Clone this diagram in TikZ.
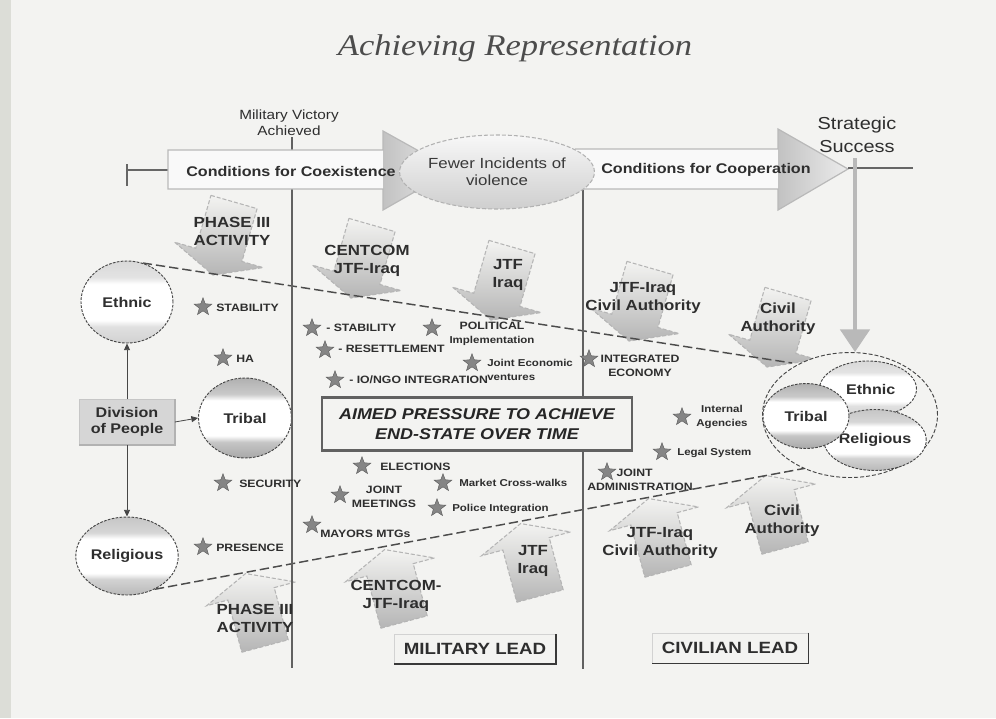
\documentclass[tikz,border=0pt]{standalone}
\usepackage{fontspec}
\setmainfont{Liberation Serif}
\newfontfamily\wsans[FakeStretch=1.15]{Liberation Sans}
\newfontfamily\wserif[FakeStretch=1.15]{Liberation Serif}
\usetikzlibrary{shapes.geometric,arrows.meta}
\pgfdeclarelayer{back}
\pgfdeclarelayer{bg}
\pgfsetlayers{back,bg,main}

\definecolor{pagecol}{HTML}{F3F3F1}
\definecolor{stripcol}{HTML}{DCDDD7}
\definecolor{ink}{HTML}{2E2E2E}

\pgfdeclareverticalshading{shEthnic}{100bp}{color(0bp)=(gray!36); color(25bp)=(gray!36); color(35bp)=(gray!24); color(39bp)=(white); color(61bp)=(white); color(65bp)=(gray!22); color(75bp)=(gray!30); color(100bp)=(gray!30)}
\pgfdeclareverticalshading{shTribal}{100bp}{color(0bp)=(gray!68); color(25bp)=(gray!68); color(35bp)=(gray!45); color(39bp)=(white); color(61bp)=(white); color(65bp)=(gray!42); color(75bp)=(gray!62); color(100bp)=(gray!62)}
\pgfdeclareverticalshading{shRelig}{100bp}{color(0bp)=(gray!55); color(25bp)=(gray!55); color(35bp)=(gray!35); color(39bp)=(white); color(61bp)=(white); color(65bp)=(gray!32); color(75bp)=(gray!45); color(100bp)=(gray!45)}

\tikzset{
  txt/.style={text=ink, inner sep=0pt, align=center},
  arrlbl/.style={txt, font=\wsans\bfseries\fontsize{11}{13.5}\selectfont},
  starnode/.style={star, star points=5, star point ratio=2.4, minimum size=14pt, inner sep=0pt, fill=black!48, draw=black!65, line width=0.3pt},
  slbl/.style={txt, font=\wsans\bfseries\fontsize{8}{10.5}\selectfont},
  slblw/.style={slbl, anchor=west, align=left},
  vline/.style={draw=black!62, line width=1.4pt},
  thinline/.style={draw=black!60, line width=1pt},
  bigbody/.style={fill=gray!5},
  bighead/.style={left color=gray!48, right color=gray!15},
  bigline/.style={draw=gray!55, line width=0.9pt},
  fatarr/.style={draw=gray!58, dash pattern=on 3pt off 1.5pt, line width=0.8pt, top color=pagecol, bottom color=gray!58},
  dashline/.style={draw=gray!60!black, dash pattern=on 7pt off 3pt, line width=1.1pt},
  circnode/.style={ellipse, draw=gray!55!black, dash pattern=on 2pt off 1pt, line width=0.7pt, text=ink, font=\wsans\bfseries\fontsize{10.5}{12}\selectfont, inner sep=0pt},
  conn/.style={draw=gray!55!black, line width=0.6pt, -{Triangle[length=5pt,width=4.5pt]}},
  leadbox/.style={rectangle, draw=gray!35, line width=0.5pt, fill=pagecol, text=ink, font=\wsans\bfseries\fontsize{12.2}{14}\selectfont, inner sep=0pt},
  shadowline/.style={draw=gray!45!black, line width=1pt},
}

\newcommand{\fatdown}[2]{%
  \begin{scope}[shift={(#1)},rotate=#2]
    \path[fatarr] (-24,0) -- (24,0) -- (24,55) -- (46,55) -- (0,76) -- (-46,55) -- (-24,55) -- cycle;
  \end{scope}}
\newcommand{\fatup}[2]{%
  \begin{scope}[shift={(#1)},rotate=#2]
    \path[fatarr] (-24,0) -- (24,0) -- (24,-54) -- (46,-54) -- (0,-75) -- (-46,-54) -- (-24,-54) -- cycle;
  \end{scope}}

\begin{document}
\begin{tikzpicture}[x=0.75pt,y=-0.75pt]
\useasboundingbox (0,0) rectangle (996,718);
\begin{pgfonlayer}{back}
  \fill[pagecol] (0,0) rectangle (996,718);
  \fill[stripcol] (0,0) rectangle (11,718);
\end{pgfonlayer}

\node[txt, font=\wserif\itshape\fontsize{22.5}{26}\selectfont, text=black!70] (title) at (515,48) {Achieving Representation};

% ---------- left group ----------
\node[circnode, shading=shEthnic, minimum width=69pt, minimum height=61.5pt] (ethnic) at (127,302) {Ethnic};
\node[circnode, shading=shTribal, minimum width=69.75pt, minimum height=60pt] (tribal) at (245,418) {Tribal};
\node[circnode, shading=shRelig, minimum width=68.25pt, minimum height=58.5pt] (relig) at (127,556) {Religious};
\node[rectangle, fill=gray!32, draw=gray!45, line width=0.5pt, minimum width=71.25pt, minimum height=33.75pt, inner sep=0pt, txt, font=\wsans\bfseries\fontsize{10.5}{12.5}\selectfont] (div) at (127,422) {Division\\of People};
\draw[shadowline, draw=gray!60] (div.north east) -- (div.south east) -- (div.south west);
\draw[conn] (div.north) -- (ethnic.south);
\draw[conn] (div.east) -- (tribal.west);
\draw[conn] (div.south) -- (relig.north);

% ---------- right cluster ----------
\node[ellipse, draw=gray!55!black, dash pattern=on 3pt off 1.5pt, line width=0.7pt, fill=pagecol, minimum width=131.25pt, minimum height=93.75pt] (outer) at (850,415) {};
\node[circnode, shading=shEthnic, minimum width=72.75pt, minimum height=42pt] (rethnic) at (868,389) {\hspace*{4pt}Ethnic};
\node[circnode, shading=shRelig, minimum width=72pt, minimum height=45.75pt] (rrelig) at (875,440) {Religious};
\node[circnode, shading=shTribal, minimum width=64.5pt, minimum height=48.75pt] (rtribal) at (806,416) {Tribal};

% ---------- fat arrows and dashed lines (background layer) ----------
\coordinate (lowend) at (828,464);
\coordinate (upend) at (792,363);
\begin{pgfonlayer}{bg}
  \fatdown{234,202}{-16}
  \fatdown{372,225}{-16}
  \fatdown{512,247}{-16}
  \fatdown{650,268}{-16}
  \fatdown{788,294}{-16}
  \fatup{265,646}{15}
  \fatup{404,622}{15}
  \fatup{540,596}{15}
  \fatup{668,571}{15}
  \fatup{785,548}{15}
  \draw[dashline] (ethnic.68) -- (upend);
  \draw[dashline] (relig.-50) -- (lowend);
\end{pgfonlayer}

% ---------- vertical lines ----------
\draw[vline] (292,137) -- (292,668);
\draw[vline] (583,190) -- (583,669);

\node[txt, font=\wsans\fontsize{10}{12}\selectfont] (mva) at (289,123) {Military Victory\\Achieved};

% ---------- big top arrows ----------
\draw[thinline] (127,170) -- (168,170);
\draw[thinline] (127,164) -- (127,186);
\path[bigbody] (168,150) rectangle (384,189);
\path[bighead] (383,131) -- (453,170) -- (383,210) -- cycle;
\draw[bigline] (168,150) -- (383,150) -- (383,131) -- (453,170) -- (383,210) -- (383,189) -- (168,189) -- cycle;
\node[txt, font=\wsans\bfseries\fontsize{10.5}{12}\selectfont] (cond1) at (291,171) {Conditions for Coexistence};

\path[bigbody] (575,149) rectangle (779,189);
\path[bighead] (778,129) -- (848,169) -- (778,210) -- cycle;
\draw[bigline] (575,149) -- (778,149) -- (778,129) -- (848,169) -- (778,210) -- (778,189) -- (575,189);
\node[txt, font=\wsans\bfseries\fontsize{10.5}{12}\selectfont] (cond2) at (706,170) {Conditions for Cooperation};

\node[ellipse, draw=gray!60, dash pattern=on 3pt off 1.5pt, line width=0.8pt, top color=gray!6, bottom color=gray!38, minimum width=127.5pt, minimum height=55.5pt, inner sep=0pt, align=center, text=gray!45!black, font=\wsans\fontsize{11}{13}\selectfont] (fewer) at (497,172) {Fewer Incidents of\\violence};

\draw[thinline] (848,168) -- (913,168);
\node[txt, font=\wsans\fontsize{13}{17}\selectfont] (strat) at (857,135) {Strategic\\Success};
\coordinate (sstop) at (855,158);
\draw[draw=gray!55, line width=3pt, -{Triangle[length=17pt,width=22pt]}] (sstop) -- (sstop |- outer.north);

% ---------- AIMED box ----------
\node[rectangle, draw=black!62, line width=1.6pt, fill=pagecol, minimum width=232.5pt, minimum height=39.75pt, inner sep=0pt, align=center, text=black!85, font=\wsans\bfseries\itshape\fontsize{11.7}{15}\selectfont] (aimed) at (477,424) {AIMED PRESSURE TO ACHIEVE\\END-STATE OVER TIME};

% ---------- stars ----------
\node[starnode] (s1) at (203,307) {};
\node[slblw] (l1) at (216,308) {STABILITY};
\node[starnode] (s2) at (223,358) {};
\node[slblw] (l2) at (236,359) {HA};
\node[starnode] (s3) at (223,483) {};
\node[slblw] (l3) at (239,484) {SECURITY};
\node[starnode] (s4) at (203,547) {};
\node[slblw] (l4) at (216,548) {PRESENCE};

\node[starnode] (s5) at (312,328) {};
\node[slblw] (l5) at (326,328) {- STABILITY};
\node[starnode] (s6) at (325,350) {};
\node[slblw] (l6) at (338,349) {- RESETTLEMENT};
\node[starnode] (s7) at (335,380) {};
\node[slblw] (l7) at (349,380) {- IO/NGO INTEGRATION};
\node[starnode] (s8) at (432,328) {};
\node[slbl] (l8) at (492,334) {POLITICAL\\{\fontsize{7.5}{9}\selectfont Implementation}};
\node[starnode] (s9) at (472,363) {};
\node[slblw, font=\wsans\bfseries\fontsize{7.5}{11}\selectfont] (l9) at (487,370) {Joint Economic\\ventures};

\node[starnode] (s10) at (362,466) {};
\node[slblw] (l10) at (380,467) {ELECTIONS};
\node[starnode] (s11) at (340,495) {};
\node[slbl] (l11) at (384,497) {JOINT\\MEETINGS};
\node[starnode] (s12) at (443,483) {};
\node[slblw, font=\wsans\bfseries\fontsize{7.5}{10}\selectfont] (l12) at (459,483) {Market Cross-walks};
\node[starnode] (s13) at (437,508) {};
\node[slblw, font=\wsans\bfseries\fontsize{7.5}{10}\selectfont] (l13) at (452,509) {Police Integration};
\node[starnode] (s14) at (312,525) {};
\node[slblw] (l14) at (320,534) {MAYORS MTGs};

\node[starnode] (s15) at (589,359) {};
\node[slbl] (l15) at (640,366) {INTEGRATED\\ECONOMY};
\node[starnode] (s16) at (682,417) {};
\node[slbl, font=\wsans\bfseries\fontsize{7.5}{10.5}\selectfont] (l16) at (722,417) {Internal\\Agencies};
\node[starnode] (s17) at (662,452) {};
\node[slblw, font=\wsans\bfseries\fontsize{7.5}{10}\selectfont] (l17) at (677,453) {Legal System};
\node[starnode] (s18) at (607,472) {};
\node[slblw] (l18) at (587,480) {\hspace*{22pt}JOINT\\ADMINISTRATION};

% ---------- fat arrow labels ----------
\node[arrlbl] (a1) at (232,231) {PHASE III\\ACTIVITY};
\node[arrlbl] (a2) at (367,261) {CENTCOM\\JTF-Iraq};
\node[arrlbl] (a3) at (508,275) {JTF\\Iraq};
\node[arrlbl] (a4) at (643,298) {JTF-Iraq\\Civil Authority};
\node[arrlbl] (a5) at (778,319) {Civil\\Authority};
\node[arrlbl] (a6) at (255,618) {PHASE III\\ACTIVITY};
\node[arrlbl] (a7) at (396,596) {CENTCOM-\\JTF-Iraq};
\node[arrlbl] (a8) at (533,561) {JTF\\Iraq};
\node[arrlbl] (a9) at (660,543) {JTF-Iraq\\Civil Authority};
\node[arrlbl] (a10) at (782,521) {Civil\\Authority};

% ---------- lead boxes ----------
\node[leadbox, minimum width=120.75pt, minimum height=21.75pt] (mil) at (475,649) {MILITARY LEAD};
\draw[shadowline] (mil.north east) -- (mil.south east) -- (mil.south west);
\node[leadbox, minimum width=117pt, minimum height=22.5pt] (civ) at (730,648) {CIVILIAN LEAD};
\draw[shadowline] (civ.north east) -- (civ.south east) -- (civ.south west);
\end{tikzpicture}
\end{document}
